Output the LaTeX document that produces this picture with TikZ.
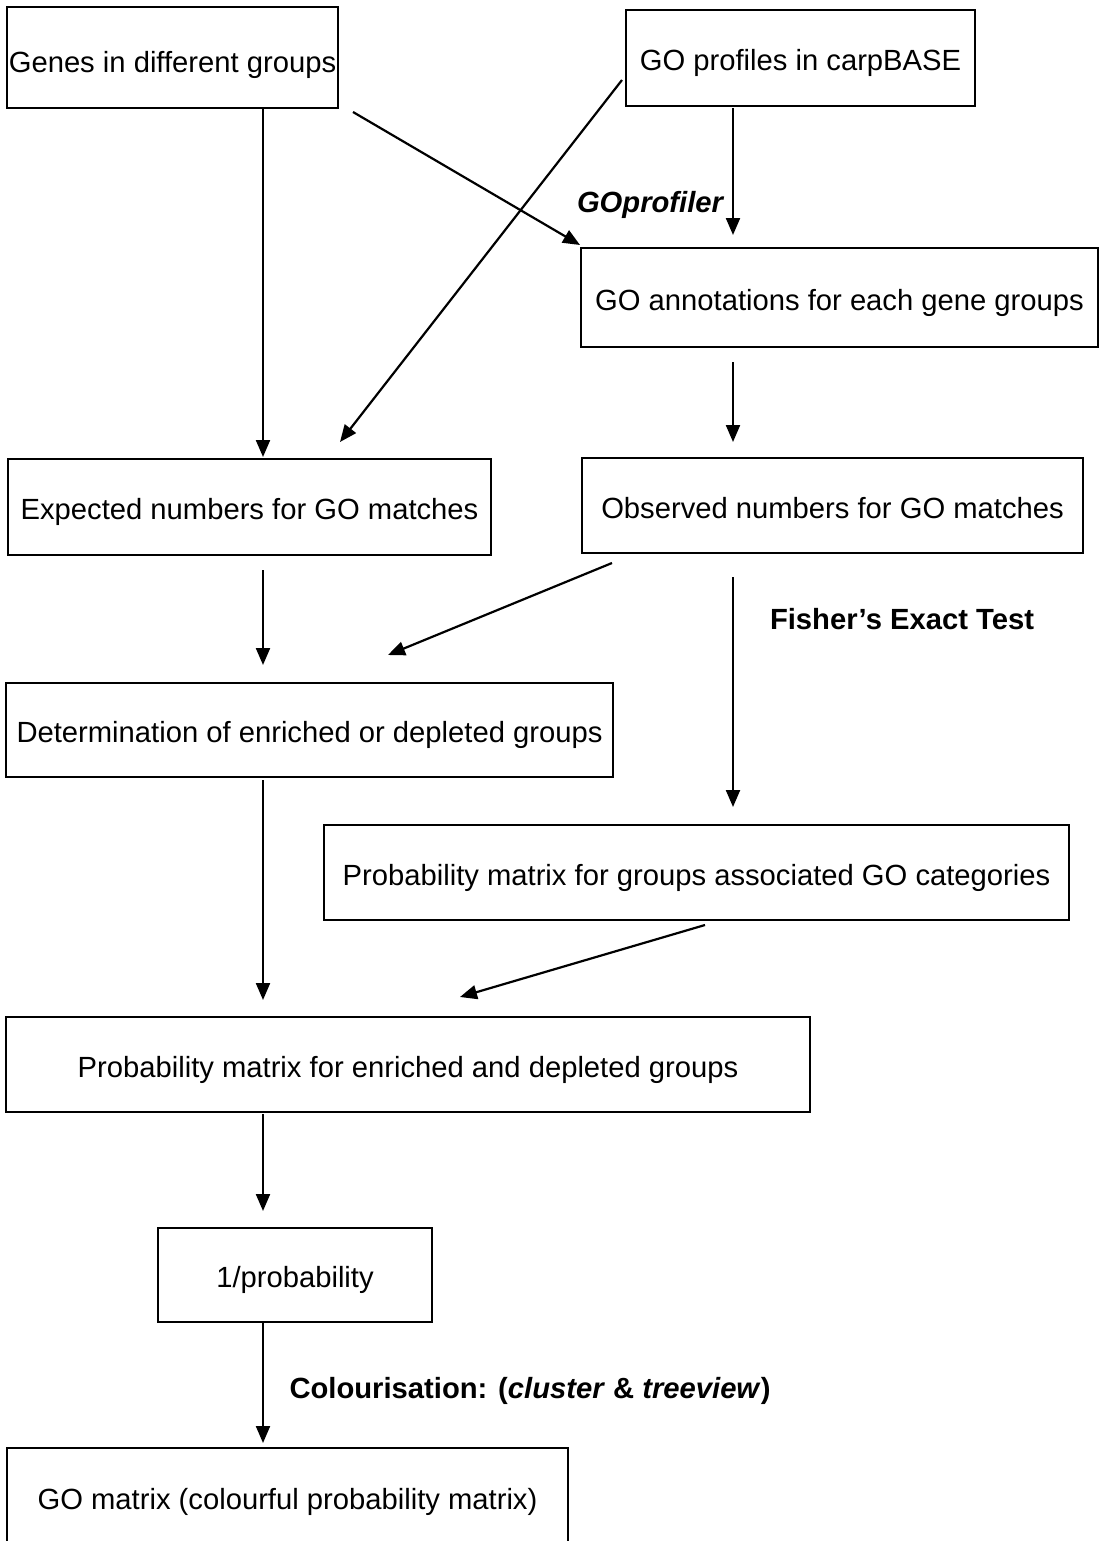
\documentclass[tikz,border=0pt]{standalone}
\usepackage{fontspec}
\setmainfont{Liberation Sans}
\usetikzlibrary{arrows.meta}
\begin{document}
\begin{tikzpicture}[x=1pt,y=-1pt,
  box/.style={draw,line width=2.6pt,rectangle,inner sep=0pt,align=center,
    text height=25pt,text depth=0pt,
    font=\fontsize{29.2}{35}\selectfont},
  arr/.style={line width=2.2pt,-{Triangle[length=17pt,width=14pt]}},
  lbl/.style={inner sep=0pt,font=\fontsize{29.2}{35}\selectfont\bfseries}]
\clip (0,0) rectangle (1099,1541);
\fill[white] (0,0) rectangle (1099,1541);
% boxes
\node[box,text height=31pt,minimum width=331pt,minimum height=101pt] (genes) at (172.5,57.5) {Genes in different groups};
\node[box,minimum width=349pt,minimum height=96pt] (goprof) at (800.5,58) {GO profiles in carpBASE};
\node[box,minimum width=517pt,minimum height=99pt] (annot) at (839.5,297.5) {GO annotations for each gene groups};
\node[box,minimum width=483pt,minimum height=96pt] (expect) at (249.5,507) {Expected numbers for GO matches};
\node[box,minimum width=501pt,minimum height=95pt] (observ) at (832.5,505.5) {Observed numbers for GO matches};
\node[box,minimum width=607pt,minimum height=94pt] (determ) at (309.5,730) {Determination of enriched or depleted groups};
\node[box,minimum width=745pt,minimum height=95pt] (probgrp) at (696.5,872.5) {Probability matrix for groups associated GO categories};
\node[box,minimum width=804pt,minimum height=95pt] (probenr) at (408,1064.5) {Probability matrix for enriched and depleted groups};
\node[box,minimum width=274pt,minimum height=94pt] (inv) at (295,1275) {1/probability};
\node[box,minimum width=561pt,minimum height=98pt] (gomat) at (287.5,1497) {GO matrix (colourful probability matrix)};
% connector end points
\coordinate (a1s) at (263,108);  \coordinate (a1e) at (263,457);
\coordinate (a2s) at (353,112);  \coordinate (a2e) at (580,245);
\coordinate (a3s) at (622,80);   \coordinate (a3e) at (340,442);
\coordinate (a4s) at (733,108);  \coordinate (a4e) at (733,235);
\coordinate (a5s) at (733,362);  \coordinate (a5e) at (733,442);
\coordinate (a6s) at (263,570);  \coordinate (a6e) at (263,665);
\coordinate (a7s) at (612,563);  \coordinate (a7e) at (388,655);
\coordinate (a8s) at (733,577);  \coordinate (a8e) at (733,807);
\coordinate (a9s) at (263,780);  \coordinate (a9e) at (263,1000);
\coordinate (a10s) at (705,925); \coordinate (a10e) at (460,997);
\coordinate (a11s) at (263,1114);\coordinate (a11e) at (263,1211);
\coordinate (a12s) at (263,1322);\coordinate (a12e) at (263,1443);
% connectors
\draw[arr] (a1s) -- (a1e);
\draw[arr] (a2s) -- (a2e);
\draw[arr] (a3s) -- (a3e);
\draw[arr] (a4s) -- (a4e);
\draw[arr] (a5s) -- (a5e);
\draw[arr] (a6s) -- (a6e);
\draw[arr] (a7s) -- (a7e);
\draw[arr] (a8s) -- (a8e);
\draw[arr] (a9s) -- (a9e);
\draw[arr] (a10s) -- (a10e);
\draw[arr] (a11s) -- (a11e);
\draw[arr] (a12s) -- (a12e);
% labels
\node[lbl] (l1) at (650,205) {\itshape GOprofiler};
\node[lbl] (l2) at (902,619) {Fisher’s Exact Test};
\node[lbl] (l3) at (530,1391) {Colourisation: (\textit{cluster} \& \textit{treeview})};
\end{tikzpicture}
\end{document}
